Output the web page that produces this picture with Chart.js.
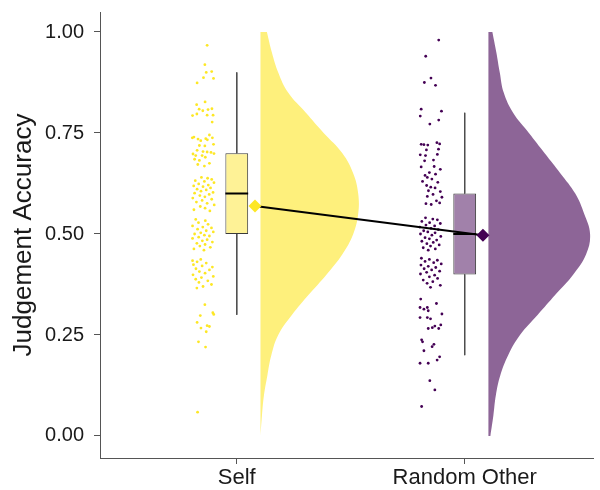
<!DOCTYPE html>
<html>
<head>
<meta charset="utf-8">
<script src="https://cdn.jsdelivr.net/npm/chart.js@4/dist/chart.umd.min.js"></script>
<style>
  html, body { margin: 0; padding: 0; background: #ffffff; }
  #wrap { width: 600px; height: 490px; }
</style>
</head>
<body>
<div id="wrap"><canvas id="c" width="600" height="490"></canvas></div>
<script>
// ---- data ----
const categories = ['Self', 'Random Other'];
const yTicks = [0, 0.25, 0.5, 0.75, 1.0];

// raw judgement accuracy scores with their horizontal jitter (category units)
const selfScores = [0.967,0.919,0.900,0.902,0.887,0.885,0.874,0.827,0.820,0.809,0.805,0.808,0.810,0.793,0.797,0.794,0.794,0.777,
  0.738,0.740,0.735,0.731,0.736,0.733,0.738,0.722,0.718,0.719,0.707,0.704,0.703,0.702,0.698,0.694,0.694,0.690,0.685,0.682,0.699,0.675,0.672,0.668,0.745,
  0.640,0.638,0.635,0.632,0.630,0.627,0.624,0.621,0.619,0.617,0.614,0.611,0.609,0.606,0.603,0.601,0.598,0.595,0.592,0.589,0.586,0.583,0.579,0.576,0.572,0.568,0.564,0.560,0.557,
  0.528,0.524,0.520,0.517,0.515,0.512,0.508,0.505,0.503,0.500,0.497,0.495,0.492,0.489,0.486,0.483,0.480,0.477,0.474,0.470,0.467,0.463,0.460,0.533,0.536,
  0.437,0.434,0.431,0.428,0.424,0.421,0.418,0.414,0.411,0.407,0.403,0.399,0.395,0.392,0.388,0.384,0.380,0.375,0.370,0.366,
  0.325,0.298,0.305,0.301,0.281,0.273,0.271,0.267,0.258,0.233,0.220,0.059];
const selfJitter = [-0.130,-0.140,-0.134,-0.110,-0.146,-0.102,-0.174,-0.139,-0.176,-0.165,-0.149,-0.126,-0.109,-0.194,-0.175,-0.130,-0.104,-0.108,
  -0.195,-0.188,-0.170,-0.158,-0.136,-0.129,-0.107,-0.102,-0.140,-0.164,-0.174,-0.148,-0.130,-0.113,-0.192,-0.180,-0.152,-0.138,-0.185,-0.164,-0.100,-0.120,-0.171,-0.142,-0.120,
  -0.155,-0.128,-0.110,-0.182,-0.142,-0.100,-0.167,-0.125,-0.189,-0.148,-0.115,-0.174,-0.134,-0.157,-0.104,-0.185,-0.121,-0.162,-0.140,-0.193,-0.110,-0.152,-0.177,-0.130,-0.099,-0.160,-0.139,-0.188,-0.118,
  -0.168,-0.126,-0.194,-0.149,-0.111,-0.172,-0.134,-0.103,-0.158,-0.185,-0.142,-0.120,-0.167,-0.194,-0.130,-0.151,-0.107,-0.175,-0.139,-0.162,-0.116,-0.188,-0.144,-0.138,-0.180,
  -0.158,-0.194,-0.174,-0.134,-0.190,-0.152,-0.107,-0.179,-0.120,-0.164,-0.139,-0.192,-0.103,-0.155,-0.180,-0.127,-0.166,-0.111,-0.148,-0.175,
  -0.140,-0.160,-0.105,-0.101,-0.174,-0.130,-0.120,-0.157,-0.134,-0.168,-0.137,-0.172];

const otherScores = [0.980,0.940,0.886,0.875,0.868,0.809,0.804,0.792,0.782,0.772,
  0.722,0.721,0.720,0.726,0.723,0.710,0.708,0.696,0.694,0.697,0.683,0.681,
  0.666,0.667,0.652,0.645,0.648,0.640,0.636,0.630,0.628,0.620,0.616,0.614,0.607,0.605,0.598,0.593,0.591,0.582,0.575,0.573,0.577,0.660,
  0.540,0.537,0.535,0.531,0.528,0.526,0.522,0.520,0.517,0.514,0.511,0.508,0.505,0.503,0.500,0.497,0.494,0.491,0.488,0.485,0.482,0.479,0.476,0.473,0.470,0.466,0.463,0.460,
  0.440,0.437,0.435,0.432,0.429,0.426,0.423,0.420,0.417,0.414,0.411,0.408,0.405,0.401,0.398,0.394,0.390,0.386,0.382,0.378,0.373,0.368,
  0.339,0.328,0.318,0.314,0.318,0.310,0.302,0.293,0.293,0.290,0.275,0.272,0.266,0.268,0.266,
  0.238,0.233,0.227,0.221,0.211,0.196,0.188,0.180,0.180,0.137,0.114,0.073];
const otherJitter = [-0.114,-0.171,-0.148,-0.177,-0.128,-0.191,-0.102,-0.195,-0.114,-0.153,
  -0.191,-0.179,-0.162,-0.122,-0.110,-0.115,-0.168,-0.195,-0.172,-0.120,-0.137,-0.176,
  -0.191,-0.134,-0.155,-0.174,-0.128,-0.164,-0.144,-0.185,-0.118,-0.167,-0.149,-0.130,-0.159,-0.107,-0.139,-0.164,-0.100,-0.124,-0.170,-0.147,-0.110,-0.107,
  -0.172,-0.140,-0.120,-0.188,-0.154,-0.107,-0.170,-0.132,-0.197,-0.148,-0.116,-0.180,-0.162,-0.130,-0.194,-0.144,-0.105,-0.174,-0.155,-0.123,-0.188,-0.138,-0.166,-0.112,-0.150,-0.182,-0.129,-0.160,
  -0.190,-0.155,-0.120,-0.174,-0.136,-0.103,-0.192,-0.160,-0.127,-0.178,-0.145,-0.110,-0.167,-0.194,-0.132,-0.155,-0.119,-0.182,-0.140,-0.165,-0.107,-0.150,
  -0.193,-0.124,-0.196,-0.179,-0.164,-0.160,-0.100,-0.196,-0.164,-0.150,-0.105,-0.131,-0.160,-0.142,-0.114,
  -0.189,-0.185,-0.135,-0.143,-0.179,-0.110,-0.121,-0.196,-0.160,-0.153,-0.131,-0.189];

// kernel density (relative) evaluated on a grid of scores
const densityGrid  = [0,0.05,0.10,0.15,0.20,0.25,0.30,0.35,0.40,0.45,0.50,0.55,0.60,0.65,0.70,0.75,0.80,0.85,0.90,0.95,1.00];
const selfDensity  = [0,0.015,0.035,0.07,0.11,0.18,0.32,0.49,0.67,0.83,0.94,0.99,0.99,0.94,0.83,0.64,0.46,0.28,0.18,0.115,0.065];
const otherDensity = [0.02,0.05,0.075,0.12,0.20,0.32,0.50,0.68,0.86,0.99,1.03,0.97,0.88,0.73,0.57,0.41,0.25,0.155,0.115,0.08,0.04];

// box plot summaries, one entry per category
const boxLow    = [0.30, 0.20];
const boxQ1     = [0.50, 0.40];
const boxMedian = [0.60, 0.50];
const boxQ3     = [0.70, 0.60];
const boxHigh   = [0.90, 0.80];
const groupMeans = [0.569, 0.497];

// ---- layout / style constants ----
const VIOLIN_NUDGE = 0.104;   // half-violin starts right of the category
const VIOLIN_SCALE = 0.433;   // x-units for relative density 1.0
const MEAN_NUDGE = 0.08;
const BOX_WIDTH = 0.1;
const POINT_COLORS  = ['#FDE725', '#440154'];
const VIOLIN_COLORS = ['#FEF07C', '#8D6597'];
const BOX_COLORS    = ['#FEF296', '#A181AA'];
const AXIS_COLOR = '#555555';
const TEXT_COLOR = '#1a1a1a';

Chart.defaults.font.family = "'Liberation Sans', Arial, Helvetica, sans-serif";

const scoreSets  = [selfScores, otherScores];
const jitterSets = [selfJitter, otherJitter];
const densitySets = [selfDensity, otherDensity];

const datasets = [];

categories.forEach((name, g) => {
  const pos = g + 1;

  // half violin (vertical curve filled back to its baseline)
  datasets.push({
    type: 'line',
    indexAxis: 'y',
    label: name + ' density',
    data: densityGrid.map((y, i) => ({ x: pos + VIOLIN_NUDGE + densitySets[g][i] * VIOLIN_SCALE, y })),
    fill: { value: pos + VIOLIN_NUDGE },
    backgroundColor: VIOLIN_COLORS[g],
    borderColor: 'rgba(0,0,0,0)',
    borderWidth: 0,
    pointRadius: 0,
    tension: 0.4,
    order: 6
  });

  // jittered raw scores
  datasets.push({
    type: 'scatter',
    label: name + ' scores',
    data: scoreSets[g].map((y, i) => ({ x: pos + jitterSets[g][i], y })),
    backgroundColor: POINT_COLORS[g],
    pointRadius: 1.4,
    pointBorderWidth: 0,
    order: 5
  });

  // whiskers
  datasets.push({
    type: 'line',
    label: name + ' whiskers',
    data: [{ x: pos, y: boxHigh[g] }, { x: pos, y: boxQ3[g] }, { x: null, y: null },
           { x: pos, y: boxQ1[g] }, { x: pos, y: boxLow[g] }],
    borderColor: '#4d4d4d',
    borderWidth: 1,
    pointRadius: 0,
    spanGaps: false,
    fill: false,
    order: 4
  });

  // median bar
  datasets.push({
    type: 'line',
    label: name + ' median',
    data: [{ x: pos - BOX_WIDTH / 2, y: boxMedian[g] }, { x: pos + BOX_WIDTH / 2, y: boxMedian[g] }],
    borderColor: '#000000',
    borderWidth: 2,
    pointRadius: 0,
    fill: false,
    order: 2
  });
});

// interquartile boxes
datasets.push({
  type: 'bar',
  label: 'IQR',
  data: categories.map((c, g) => ({ x: g + 1, y: [boxQ1[g], boxQ3[g]] })),
  backgroundColor: BOX_COLORS,
  borderColor: '#3a3a3a',
  borderWidth: 1,
  borderSkipped: false,
  grouped: false,
  barPercentage: BOX_WIDTH,
  categoryPercentage: 1,
  order: 3
});

// line joining group means
datasets.push({
  type: 'line',
  label: 'mean trend',
  data: groupMeans.map((m, g) => ({ x: g + 1 + MEAN_NUDGE, y: m })),
  borderColor: '#000000',
  borderWidth: 2,
  pointRadius: 0,
  fill: false,
  order: 1
});

// group means
datasets.push({
  type: 'scatter',
  label: 'means',
  data: groupMeans.map((m, g) => ({ x: g + 1 + MEAN_NUDGE, y: m })),
  pointStyle: 'rectRot',
  pointRadius: 6.5,
  pointBorderWidth: 0,
  pointBackgroundColor: POINT_COLORS,
  order: 0
});

new Chart(document.getElementById('c'), {
  type: 'scatter',
  data: { datasets },
  options: {
    responsive: false,
    devicePixelRatio: 1,
    animation: false,
    events: [],
    layout: { padding: { top: 12, right: 0, bottom: 0, left: 0 } },
    plugins: { legend: { display: false }, tooltip: { enabled: false } },
    scales: {
      x: {
        type: 'linear',
        min: 0.4,
        max: 2.565,
        offset: false,
        afterBuildTicks: (s) => { s.ticks = categories.map((c, i) => ({ value: i + 1 })); },
        afterFit: (s) => { s.height = 32; s.paddingLeft = 0; s.paddingRight = 0; },
        ticks: {
          autoSkip: false,
          maxRotation: 0,
          padding: 1,
          color: TEXT_COLOR,
          font: { size: 22 },
          callback: (v) => categories[Math.round(v) - 1]
        },
        grid: { offset: false, drawOnChartArea: false, drawTicks: true, tickLength: 6, tickColor: AXIS_COLOR, tickWidth: 1 },
        border: { display: true, color: AXIS_COLOR, width: 1 }
      },
      y: {
        type: 'linear',
        min: -0.0545,
        max: 1.0495,
        afterBuildTicks: (s) => { s.ticks = yTicks.map(v => ({ value: v })); },
        afterFit: (s) => { s.width = 100; s.paddingTop = 0; s.paddingBottom = 0; },
        ticks: {
          padding: 10,
          color: TEXT_COLOR,
          font: { size: 20 },
          callback: (v) => Number(v).toFixed(2)
        },
        grid: { drawOnChartArea: false, drawTicks: true, tickLength: 6, tickColor: AXIS_COLOR, tickWidth: 1 },
        border: { display: true, color: AXIS_COLOR, width: 1 },
        title: {
          display: true,
          text: 'Judgement Accuracy',
          color: TEXT_COLOR,
          font: { size: 26 },
          padding: { top: 8, bottom: 0 }
        }
      }
    }
  }
});
</script>
</body>
</html>
